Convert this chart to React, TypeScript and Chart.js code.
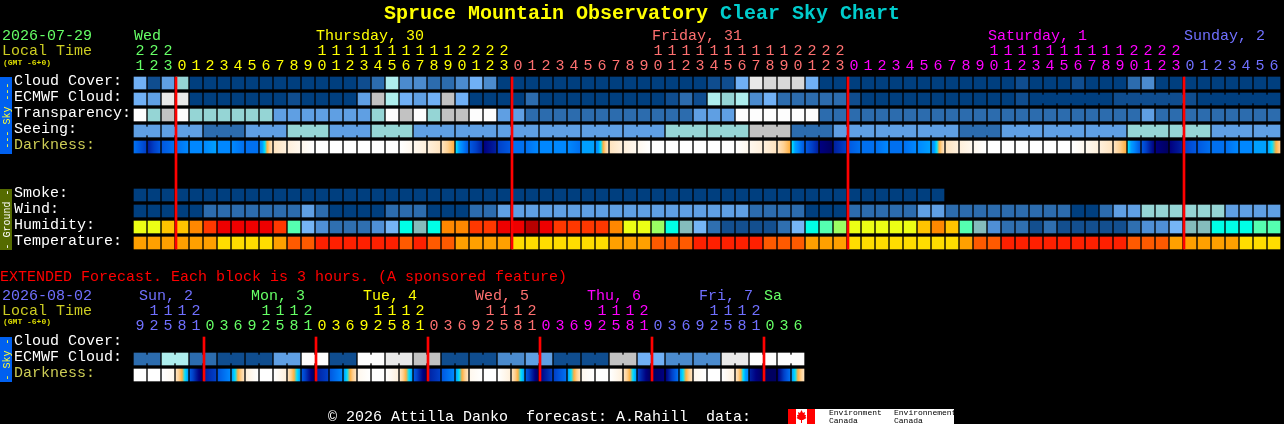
import React, { useEffect, useRef } from "react";
import { Chart, registerables } from "chart.js";

Chart.register(...registerables);

// ---------- hours (tick labels) ----------
const hours = [21,22,23,0,1,2,3,4,5,6,7,8,9,10,11,12,13,14,15,16,17,18,19,20,21,22,23,0,1,2,3,4,5,6,7,8,9,10,11,12,13,14,15,16,17,18,19,20,21,22,23,0,1,2,3,4,5,6,7,8,9,10,11,12,13,14,15,16,17,18,19,20,21,22,23,0,1,2,3,4,5,6];
const extHours = [9,12,15,18,21,0,3,6,9,12,15,18,21,0,3,6,9,12,15,18,21,0,3,6,9,12,15,18,21,0,3,6,9,12,15,18,21,0,3,6,9,12,15,18,21,0,3,6];

const rowLabels = ["Cloud Cover:","ECMWF Cloud:","Transparency:","Seeing:","Darkness:","","","Smoke:","Wind:","Humidity:","Temperature:"];
const extRowLabels = ["Cloud Cover:","ECMWF Cloud:","Darkness:"];

// ---------- hourly series (levels into the palettes) ----------
const cloudCover = [5,1,4,7,0,0,0,0,0,0,0,0,0,0,0,0,1,2,6,3,3,2,2,3,5,3,0,0,0,0,0,0,0,0,0,0,0,0,0,0,0,1,1,5,10,9,9,9,5,0,0,0,0,0,0,0,0,0,0,0,0,0,0,1,0,0,0,1,0,0,0,2,3,0,0,0,0,0,0,0,0,0];
const ecmwfCloud = [5,4,10,10,0,0,0,0,0,0,0,1,0,0,0,0,4,8,6,5,4,5,8,5,0,0,0,0,2,0,0,0,0,0,0,0,0,0,1,2,1,6,7,6,3,5,2,2,2,2,2,1,0,0,0,0,0,0,0,0,0,0,0,1,0,0,0,0,0,0,1,1,1,1,1,1,0,0,0,0,0,0];
const transparency = [11,7,8,11,7,7,7,7,7,7,4,4,4,4,4,4,4,7,11,8,11,7,8,8,11,11,4,4,2,2,2,2,2,2,2,2,2,2,2,2,4,4,4,11,11,11,11,11,11,2,2,2,2,2,2,2,2,2,2,2,2,2,2,2,2,2,2,2,2,2,2,2,4,2,2,2,2,2,2,2,2,2];
const seeing = [4,4,4,4,4,2,2,2,4,4,4,7,7,7,4,4,4,7,7,7,4,4,4,4,4,4,4,4,4,4,4,4,4,4,4,4,4,4,7,7,7,7,7,7,8,8,8,2,2,2,4,4,4,4,4,4,4,4,4,2,2,2,4,4,4,4,4,4,4,4,4,7,7,7,7,7,7,4,4,4,4,4];
const darknessStart = [9,12,10,9,8,8,8,8,9,8,3,2,1,0,0,0,0,0,0,0,1,2,3,6,10,13,11,9,9,8,8,8,7,8,3,2,1,0,0,0,0,0,0,0,1,2,3,6,10,13,12,10,9,9,9,9,8,8,3,2,1,0,0,0,0,0,0,0,1,2,3,6,10,13,13,11,10,9,9,8,7,7];
const darknessEnd = [11,10,9,8,8,7,8,9,9,3,2,1,0,0,0,0,0,0,0,1,2,3,5,10,12,12,10,9,8,8,8,9,7,3,2,1,0,0,0,0,0,0,0,1,2,3,5,10,12,14,11,9,9,8,9,8,7,3,2,1,0,0,0,0,0,0,0,1,2,3,5,10,13,14,12,10,9,9,8,8,7,4];
const smoke = [0,0,0,0,0,0,0,0,0,0,0,0,0,0,0,0,0,0,0,0,0,0,0,0,0,0,0,0,0,0,0,0,0,0,0,0,0,0,0,0,0,0,0,0,0,0,0,0,0,0,0,0,0,0,0,0,0,0];
const wind = [0,0,0,0,0,2,2,2,2,2,2,2,4,2,0,0,0,0,2,2,2,0,0,0,2,2,4,4,4,4,4,4,4,4,4,4,4,4,4,4,4,4,4,4,2,2,2,2,0,0,0,2,2,2,2,2,4,4,2,2,2,2,2,2,2,2,2,0,0,2,4,4,7,7,7,7,7,7,4,4,4,4];
const humidity = [8,8,9,9,10,11,12,12,12,12,11,6,3,2,1,1,1,2,3,5,4,5,10,10,11,11,12,12,13,12,11,11,11,11,10,8,8,7,5,4,3,1,0,0,0,0,1,3,5,6,7,8,8,8,8,8,9,10,9,6,4,2,1,1,0,1,0,0,0,0,0,1,2,2,3,4,4,5,5,5,6,6];
const temperature = [1,1,1,1,1,1,0,0,0,0,1,2,2,3,3,3,3,3,3,2,3,2,2,1,1,1,1,0,0,0,0,0,0,0,1,1,1,2,2,2,3,3,3,3,3,2,2,2,1,1,1,0,0,0,0,0,0,0,0,1,2,2,3,3,3,3,3,3,3,3,3,2,2,2,1,1,1,1,1,0,0,0];

const seeingBlockStarts = [0,2,5,8,11,14,17,20,23,26,29,32,35,38,41,44,47,50,53,56,59,62,65,68,71,74,77,80];
const ecmwfBlockStarts = [64,70,76];
const midnights = [3,27,51,75];

// ---------- extended 3-hourly series ----------
const extEcmwf = [2,2,6,6,2,2,1,1,1,1,4,4,11,11,1,1,11,11,10,10,8,8,1,1,1,1,3,3,4,4,1,1,1,1,8,8,5,5,3,3,3,3,10,10,11,11,11,11];
const extDarkStart = [0,0,0,3,10,12,10,7,2,0,0,3,10,12,10,7,1,0,0,3,10,12,10,7,1,0,0,3,10,13,11,7,1,0,0,3,11,14,13,7,1,0,0,3,12,14,13,7];
const extDarkEnd = [0,0,1,7,14,11,8,3,0,0,2,7,14,11,8,3,0,0,2,7,14,11,8,3,0,0,2,7,14,11,9,3,0,0,2,7,14,13,9,3,0,0,2,8,14,14,9,3];
const extBlockStarts = [0,2,4,6,8,10,12,14,16,18,20,22,24,26,28,30,32,34,36,38,40,42,44,46];
const extMidnights = [5,13,21,29,37,45];

// ---------- palettes ----------
const skyPalette = ["#003f7f","#0f4d8f","#2c6cae","#4b8bce","#5f9fe3","#70b0f5","#aeeeee","#95d5d5","#c2c2c2","#d8d8d8","#e9e9e9","#fdfdfd"];
const darkPalette = ["#ffffff","#fff8ee","#fff0dc","#ffe4c0","#ffd090","#ffb040","#00e0ff","#00a0ff","#0088ff","#0070f0","#0058e0","#0040c8","#0020a0","#000080","#000060"];
const humidityPalette = ["#134f8f","#2f6fb0","#4f8fd5","#75b5f5","#84bcbc","#00ffe6","#55ffb0","#9bff63","#ecff15","#ffc400","#ff8800","#ff3800","#ee0000","#b80000"];
const tempPalette = ["#ffdd00","#ffa000","#ff5a00","#ff2000"];

const GREEN = "#66ff66", YELLOW = "#ffff00", SALMON = "#ff7070", MAGENTA = "#ff00ff", BLUE = "#7070ff";
const hourColors = hours.map((_, i) => (i < 3 ? GREEN : i < 27 ? YELLOW : i < 51 ? SALMON : i < 75 ? MAGENTA : BLUE));
const extHourColors = extHours.map((_, i) => (i < 5 ? BLUE : i < 13 ? GREEN : i < 21 ? YELLOW : i < 29 ? SALMON : i < 37 ? MAGENTA : i < 45 ? BLUE : GREEN));

const FONT = '"Liberation Mono", monospace';
const HALF = 0.375;

function cells(values: number[], row: number, palette: string[]) {
  return {
    xAxisID: "x",
    data: values.map((_, k) => ({ x: k, y: [row - HALF, row + HALF] })),
    backgroundColor: values.map((v) => palette[v]),
    maxBarThickness: 12,
    order: 2,
  };
}

function bridges(values: number[], row: number, starts: number[], palette: string[]) {
  const joins: number[] = [];
  starts.forEach((s, i) => {
    const end = i + 1 < starts.length ? starts[i + 1] : values.length;
    for (let k = s; k < end - 1; k++) joins.push(k);
  });
  return {
    xAxisID: "xb",
    data: joins.map((k) => ({ x: k + 0.5, y: [row - 0.25, row + 0.25] })),
    backgroundColor: joins.map((k) => palette[values[k]]),
    maxBarThickness: 2,
    order: 1,
  };
}

function darkCells(start: number[], end: number[], row: number) {
  return {
    xAxisID: "x",
    data: start.map((_, k) => ({ x: k, y: [row - HALF, row + HALF] })),
    maxBarThickness: 12,
    order: 2,
    backgroundColor: (ctx: any) => {
      const k = ctx.dataIndex;
      const c = ctx.chart.scales.x.getPixelForValue(k);
      const a = start[k], b = end[k];
      if (!Number.isFinite(c)) return darkPalette[a];
      const g = ctx.chart.ctx.createLinearGradient(c - 6, 0, c + 6, 0);
      const n = Math.abs(b - a);
      if (n === 0) { g.addColorStop(0, darkPalette[a]); g.addColorStop(1, darkPalette[a]); return g; }
      const dir = b > a ? 1 : -1;
      for (let i = 0; i <= n; i++) g.addColorStop(i / n, darkPalette[a + dir * i]);
      return g;
    },
  };
}

function redLines(cols: number[], last: number) {
  return {
    xAxisID: "xr",
    data: cols.map((k) => ({ x: k - 0.5 + 1 / 14, y: [-HALF, last + HALF] })),
    backgroundColor: "#ff0000",
    maxBarThickness: 2,
    order: 0,
  };
}

function baseOptions(labelsOfHours: number[], colors: string[], rows: string[], rowColor: (l: string) => string, headH: number, bottomPad: number) {
  const hiddenX = { type: "linear", display: false, offset: false, min: -0.5, max: 81.5 };
  return {
    animation: false,
    responsive: false,
    devicePixelRatio: 1,
    layout: { padding: { left: 14, right: 3, top: 0, bottom: bottomPad } },
    datasets: { bar: { grouped: false, barPercentage: 1, categoryPercentage: 1, borderWidth: 0 } },
    plugins: { legend: { display: false }, tooltip: { enabled: false }, title: { display: false } },
    scales: {
      x: {
        type: "linear",
        position: "top",
        offset: false,
        min: -0.5,
        max: 81.5,
        grid: { display: false, drawTicks: false, offset: false },
        border: { display: false },
        afterBuildTicks: (s: any) => { s.ticks = labelsOfHours.map((_, i) => ({ value: i })); },
        afterFit: (s: any) => { s.height = headH; s.paddingLeft = 0; s.paddingRight = 0; },
        ticks: {
          autoSkip: false, maxRotation: 0, minRotation: 0, padding: 1,
          font: { family: FONT, size: 15, lineHeight: 1 },
          color: (c: any) => colors[c.index],
          callback: (v: number, i: number) => {
            const h = labelsOfHours[i];
            return h >= 10 ? [String(Math.floor(h / 10)), String(h % 10)] : [" ", String(h)];
          },
        },
      },
      xb: hiddenX,
      xr: hiddenX,
      y: {
        type: "linear",
        position: "left",
        reverse: true,
        min: -0.5,
        max: rows.length - 0.5,
        stacked: false,
        grid: { display: false, drawTicks: false },
        border: { display: false },
        afterBuildTicks: (s: any) => { s.ticks = rows.map((_, i) => ({ value: i - 0.1 })); },
        afterFit: (s: any) => { s.width = 119; s.paddingTop = 0; s.paddingBottom = 0; },
        ticks: {
          autoSkip: false, crossAlign: "far", padding: 0,
          font: { family: FONT, size: 15, lineHeight: 1 },
          color: (c: any) => rowColor(rows[c.index]),
          callback: (v: number, i: number) => rows[i],
        },
      },
    },
  };
}

const rowColor = (l: string) => (l === "Darkness:" ? "#cccc55" : "#ffffff");

function text(c: CanvasRenderingContext2D, s: string, x: number, y: number, color: string, font: string) {
  c.font = font;
  c.fillStyle = color;
  c.textAlign = "left";
  c.textBaseline = "alphabetic";
  c.fillText(s, x, y);
}

function tab(c: CanvasRenderingContext2D, top: number, bottom: number, bg: string, s: string, color: string) {
  c.fillStyle = bg;
  c.fillRect(0, top, 12, bottom - top);
  c.save();
  c.translate(9.5, (top + bottom) / 2);
  c.rotate(-Math.PI / 2);
  c.font = `10px ${FONT}`;
  c.fillStyle = color;
  c.textAlign = "center";
  c.textBaseline = "alphabetic";
  c.fillText(s, 0, 0);
  c.restore();
}

const F15 = `15px ${FONT}`;
const F8 = `bold 8px ${FONT}`;

const topDecor = {
  id: "topDecor",
  afterDraw(chart: any) {
    const c: CanvasRenderingContext2D = chart.ctx;
    const left = (col: number) => chart.scales.x.getPixelForValue(col - 0.5) + 1;
    c.save();
    const T = `bold 20px ${FONT}`;
    text(c, "Spruce Mountain Observatory", 384, 19, "#ffff00", T);
    text(c, "Clear Sky Chart", 720, 19, "#00cccc", T);
    text(c, "2026-07-29", 2, 40, GREEN, F15);
    text(c, "Local Time", 2, 55, "#cccc22", F15);
    text(c, "(GMT -6+0)", 3, 65, "#dddd00", F8);
    text(c, "Wed", left(0), 40, GREEN, F15);
    text(c, "Thursday, 30", left(13), 40, YELLOW, F15);
    text(c, "Friday, 31", left(37), 40, SALMON, F15);
    text(c, "Saturday, 1", left(61), 40, MAGENTA, F15);
    text(c, "Sunday, 2", left(75), 40, BLUE, F15);
    tab(c, 77, 154, "#0060f0", "--- Sky ---", "#ffff33");
    tab(c, 189, 250, "#556b00", "- Ground -", "#ffffff");
    c.restore();
  },
};

const OFFSET = 256;
const extDecor = {
  id: "extDecor",
  afterDraw(chart: any) {
    const c: CanvasRenderingContext2D = chart.ctx;
    const left = (col: number) => chart.scales.x.getPixelForValue(col - 0.5) + 1;
    c.save();
    c.translate(0, -OFFSET);
    text(c, "EXTENDED Forecast. Each block is 3 hours. (A sponsored feature)", 0, 281, "#ff0000", F15);
    text(c, "2026-08-02", 2, 300, BLUE, F15);
    text(c, "Local Time", 2, 315, "#cccc22", F15);
    text(c, "(GMT -6+0)", 3, 324, "#dddd00", F8);
    text(c, "Sun, 2", left(0) + 5, 300, BLUE, F15);
    text(c, "Mon, 3", left(8) + 5, 300, GREEN, F15);
    text(c, "Tue, 4", left(16) + 5, 300, YELLOW, F15);
    text(c, "Wed, 5", left(24) + 5, 300, SALMON, F15);
    text(c, "Thu, 6", left(32) + 5, 300, MAGENTA, F15);
    text(c, "Fri, 7", left(40) + 5, 300, BLUE, F15);
    text(c, "Sa", left(45), 300, GREEN, F15);
    tab(c, 337, 382, "#0060f0", "- Sky -", "#ffff33");
    text(c, "\u00a9 2026 Attilla Danko  forecast: A.Rahill  data:", 328, 421, "#ffffff", F15);
    // logo
    c.fillStyle = "#ffffff";
    c.fillRect(788, 409, 166, 15);
    c.fillStyle = "#ff0000";
    c.fillRect(788, 409, 8, 15);
    c.fillRect(807, 409, 8, 15);
    c.beginPath();
    const leaf = [[801.5,410],[803,413],[805,412],[804.5,415],[806,415],[805.5,417],[806.5,418],[803,420],[802,420],[802,423],[801,423],[801,420],[800,420],[796.5,418],[797.5,417],[797,415],[798.5,415],[798,412],[800,413]];
    leaf.forEach(([x, y], i) => (i ? c.lineTo(x, y) : c.moveTo(x, y)));
    c.closePath();
    c.fill();
    const S = `8px ${FONT}`;
    text(c, "Environment", 829, 415, "#000000", S);
    text(c, "Canada", 829, 423, "#000000", S);
    text(c, "Environnement", 894, 415, "#000000", S);
    text(c, "Canada", 894, 423, "#000000", S);
    c.restore();
  },
};

export default function App() {
  const topRef = useRef<HTMLCanvasElement>(null);
  const extRef = useRef<HTMLCanvasElement>(null);

  useEffect(() => {
    document.body.style.margin = "0";
    document.body.style.background = "#000";
    const top = new Chart(topRef.current as any, {
      type: "bar",
      data: {
        datasets: [
          cells(cloudCover, 0, skyPalette),
          cells(ecmwfCloud, 1, skyPalette),
          bridges(ecmwfCloud, 1, ecmwfBlockStarts, skyPalette),
          cells(transparency, 2, skyPalette),
          cells(seeing, 3, skyPalette),
          bridges(seeing, 3, seeingBlockStarts, skyPalette),
          darkCells(darknessStart, darknessEnd, 4),
          cells(smoke, 7, skyPalette),
          cells(wind, 8, skyPalette),
          cells(humidity, 9, humidityPalette),
          cells(temperature, 10, tempPalette),
          redLines(midnights, 10),
        ] as any,
      },
      options: baseOptions(hours, hourColors, rowLabels, rowColor, 75, 256 - 251) as any,
      plugins: [topDecor],
    });
    const ext = new Chart(extRef.current as any, {
      type: "bar",
      data: {
        datasets: [
          cells(extEcmwf, 1, skyPalette),
          bridges(extEcmwf, 1, extBlockStarts, skyPalette),
          darkCells(extDarkStart, extDarkEnd, 2),
          redLines(extMidnights, 2),
        ] as any,
      },
      options: baseOptions(extHours, extHourColors, extRowLabels, rowColor, 79, 168 - 127) as any,
      plugins: [extDecor],
    });
    return () => {
      top.destroy();
      ext.destroy();
    };
  }, []);

  return (
    <div style={{ position: "absolute", left: 0, top: 0, width: 1284, height: 424, background: "#000", overflow: "hidden" }}>
      <canvas ref={topRef} width={1284} height={256} style={{ position: "absolute", left: 0, top: 0, display: "block" }} />
      <canvas ref={extRef} width={1284} height={168} style={{ position: "absolute", left: 0, top: OFFSET, display: "block" }} />
    </div>
  );
}
